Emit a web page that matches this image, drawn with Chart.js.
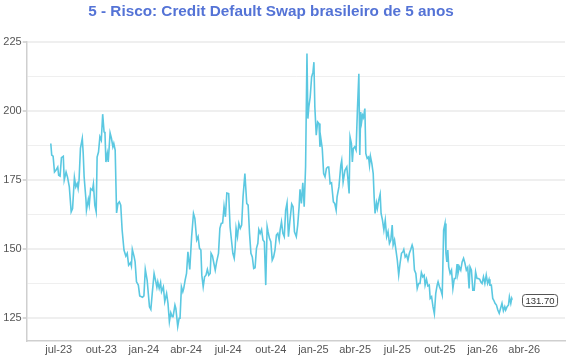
<!DOCTYPE html>
<html><head><meta charset="utf-8">
<script src="https://cdn.jsdelivr.net/npm/chart.js@4"></script>
<style>
html,body{margin:0;padding:0;background:#fff;}
#wrap{position:relative;width:570px;height:360px;}
#title{position:absolute;left:0;top:2px;width:542px;text-align:center;font:bold 15.3px "Liberation Sans",Arial,sans-serif;color:#5473d6;white-space:nowrap;}
canvas{position:absolute;left:0;top:0;}
</style></head><body>
<div id="wrap"><canvas id="c" width="570" height="360"></canvas><div id="title">5 - Risco: Credit Default Swap brasileiro de 5 anos</div></div>
<script>
// Data: days since startDate and CDS 5y values (bps)
const startDate = '2023-07-01';
const dayOffsets = [
-17,-15,-12,-9,-6,-2,0,3,6,10,12,16,19,23,27,30,34,37,40,42,44,47,51,53,55,59,60,64,66,69,
73,75,78,81,83,86,89,92,95,98,100,102,105,107,111,114,117,119,122,125,128,131,134,137,141,145,148,151,155,157,
159,163,165,168,172,175,181,184,187,191,196,199,202,206,209,212,214,217,220,222,226,229,233,236,239,242,245,247,251,253,
257,260,262,265,268,270,273,276,279,283,287,291,294,298,301,304,307,309,312,315,318,321,324,327,329,332,335,338,341,345,
348,351,354,357,360,363,367,370,373,376,379,381,383,386,389,392,395,398,402,406,409,412,415,418,421,424,427,430,432,435,
438,441,444,447,450,452,455,458,461,464,467,470,473,476,478,481,484,487,490,493,496,499,503,506,509,513,516,519,521,524,
527,530,533,536,538,540,543,546,549,551,553,556,559,562,564,566,569,572,575,578,581,583,586,589,593,596,599,601,605,609,
611,614,618,622,624,627,629,632,634,636,639,642,645,648,650,652,654,656,658,661,663,666,669,671,673,676,679,681,683,686,
688,691,694,696,699,702,705,708,711,714,717,720,722,725,728,731,734,737,740,743,745,748,751,754,757,760,763,765,768,771,
774,777,780,783,786,789,791,794,797,800,802,805,808,811,814,817,819,822,825,828,831,834,836,838,840,842,845,848,851,854,
857,860,862,865,868,871,874,877,880,883,886,888,891,894,897,900,903,906,909,911,914,917,920,923,926,929,931,934,937,939,
942,945,948,951,954,957,960,963,965,968,971,973,976,978,979
];
const cdsValues = [
188.2,184.0,183.6,177.9,178.5,179.7,176.7,176.4,183.1,183.6,175.0,177.9,176.1,172.5,163.5,164.7,175.9,172.5,173.7,171.9,174.9,186.4,190.0,184.6,176.1,167.7,164.1,168.0,165.9,171.9,
171.3,173.5,165.9,163.5,183.3,185.1,190.6,189.4,198.8,192.4,191.8,181.5,184.6,181.5,192.0,190.0,187.0,188.2,185.8,163.1,166.5,167.1,165.9,156.9,149.7,147.5,148.5,144.2,145.1,143.9,
149.9,147.2,145.4,138.2,137.0,133.1,132.6,133.1,142.7,138.8,129.2,128.2,134.0,141.2,138.8,136.2,138.2,135.8,137.9,134.6,136.4,131.0,134.0,130.4,123.8,127.0,125.6,125.6,129.8,128.6,
122.0,125.0,125.0,136.4,134.6,135.8,138.8,141.2,149.0,142.7,154.5,162.9,161.1,153.3,154.5,150.3,149.7,140.6,136.4,140.0,140.6,142.7,140.6,141.2,148.5,147.5,144.9,142.4,145.4,148.5,
157.5,159.3,159.5,165.5,161.7,170.3,170.1,158.1,153.3,148.5,146.7,150.3,157.5,154.5,159.3,157.5,158.7,168.9,177.3,166.5,165.9,155.7,148.5,147.2,143.0,143.3,150.3,152.1,157.1,155.7,
157.1,153.3,152.7,137.0,158.1,156.3,153.9,152.7,146.0,147.2,149.7,155.1,155.7,153.3,156.9,159.9,155.7,154.5,164.1,166.7,154.5,159.9,166.3,165.3,156.3,154.5,158.7,165.3,171.6,166.5,
174.0,165.3,179.7,220.7,197.2,201.4,205.0,212.2,214.0,217.6,201.4,191.2,196.0,195.4,187.0,190.0,186.4,177.3,176.1,179.2,179.7,179.7,173.7,174.0,167.1,166.5,164.1,168.9,172.5,180.3,
182.1,174.3,178.5,179.7,176.1,170.1,190.6,188.2,181.5,186.4,187.0,185.8,200.8,213.4,184.0,199.6,196.0,198.4,197.6,200.8,184.6,182.8,183.3,180.3,183.6,181.0,177.3,168.9,162.9,166.7,
164.7,167.7,169.9,162.9,160.5,156.9,160.5,154.5,156.3,152.1,153.3,158.7,151.5,153.3,149.7,146.0,140.6,144.9,148.5,149.0,149.9,147.2,147.9,146.0,148.5,149.9,151.5,150.3,142.4,141.2,
135.8,137.6,137.6,141.5,140.0,140.6,137.0,139.1,136.7,137.0,132.2,132.8,129.2,126.6,134.0,137.0,138.2,136.4,135.2,133.4,156.9,159.3,148.5,145.4,149.7,143.6,141.2,142.4,135.8,139.4,
139.4,144.6,141.2,143.6,142.4,145.4,146.7,144.9,142.4,143.4,135.8,143.6,142.4,135.2,135.2,141.8,139.4,139.4,139.1,138.2,137.6,140.0,137.6,140.6,137.6,139.1,137.0,137.0,132.2,131.6,
130.4,129.8,128.0,126.8,128.6,130.4,127.7,129.2,128.0,129.2,129.8,132.8,130.4,132.2,131.70
];
const tickDates = ['2023-07-01','2023-10-01','2024-01-01','2024-04-01','2024-07-01','2024-10-01','2025-01-01','2025-04-01','2025-07-01','2025-10-01','2026-01-01','2026-04-01'];
const tickLabels = ['jul-23','out-23','jan-24','abr-24','jul-24','out-24','jan-25','abr-25','jul-25','out-25','jan-26','abr-26'];
const yTickValues = [125,137.5,150,162.5,175,187.5,200,212.5,225];
const yLabelValues = [125,150,175,200,225];
const axisMinDate = '2023-04-23';
const axisMaxDate = '2026-06-28';

const toDays = s => Math.round((Date.parse(s + 'T00:00:00Z') - Date.parse(startDate + 'T00:00:00Z')) / 86400000);
const tickDays = tickDates.map(toDays);
const FONT = '"Liberation Sans", Arial, Helvetica, sans-serif';

const lastLabelPlugin = {
  id: 'lastLabel',
  afterDatasetsDraw(chart) {
    const ctx = chart.ctx, x = chart.scales.x, y = chart.scales.y;
    const i = cdsValues.length - 1;
    const px = x.getPixelForValue(dayOffsets[i]);
    const py = y.getPixelForValue(cdsValues[i]);
    const text = cdsValues[i].toFixed(2);
    ctx.save();
    ctx.font = '9.5px ' + FONT;
    const w = ctx.measureText(text).width + 6;
    const h = 12;
    const bx = Math.round(px + 10) + 0.5, by = Math.round(py - h / 2) + 0.5;
    ctx.beginPath();
    ctx.roundRect(bx, by, w, h, 3);
    ctx.fillStyle = '#fff';
    ctx.fill();
    ctx.strokeStyle = '#555';
    ctx.lineWidth = 1;
    ctx.stroke();
    ctx.fillStyle = '#333';
    ctx.textAlign = 'center';
    ctx.textBaseline = 'middle';
    ctx.fillText(text, bx + w / 2, by + h / 2 + 0.5);
    ctx.restore();
  }
};

new Chart(document.getElementById('c'), {
  type: 'line',
  data: {
    datasets: [{
      data: dayOffsets.map((d, i) => ({ x: d, y: cdsValues[i] })),
      borderColor: '#5bc8e1',
      borderWidth: 1.6,
      pointRadius: 0,
      tension: 0,
      fill: false
    }]
  },
  options: {
    responsive: false,
    animation: false,
    devicePixelRatio: 1,
    layout: { padding: { top: 41.7, right: 5, left: 0, bottom: 0 } },
    plugins: { legend: { display: false }, tooltip: { enabled: false }, title: { display: false } },
    scales: {
      x: {
        type: 'linear',
        min: toDays(axisMinDate),
        max: toDays(axisMaxDate),
        afterBuildTicks: s => { s.ticks = tickDays.map(v => ({ value: v })); },
        afterFit: s => { s.height = 19.3; },
        grid: { display: false, drawTicks: false },
        border: { display: true, color: '#cfcfcf', width: 1.5 },
        ticks: {
          autoSkip: false, maxRotation: 0, minRotation: 0, padding: 3,
          color: '#555', font: { size: 11, family: FONT },
          callback: v => { const k = tickDays.indexOf(v); return k >= 0 ? tickLabels[k] : ''; }
        }
      },
      y: {
        min: 116.9,
        max: 225,
        afterBuildTicks: s => { s.ticks = yTickValues.map(v => ({ value: v })); },
        afterFit: s => { s.width = 26.7; },
        grid: {
          color: '#efefef',
          lineWidth: c => (c.tick && yLabelValues.includes(c.tick.value)) ? 2 : 1,
          tickLength: 4,
          tickColor: c => (c.tick && yLabelValues.includes(c.tick.value)) ? '#d8d8d8' : 'rgba(0,0,0,0)'
        },
        border: { display: true, color: '#cfcfcf', width: 1.5 },
        ticks: {
          padding: 1, color: '#555', font: { size: 11, family: FONT },
          callback: v => yLabelValues.includes(v) ? String(v) : ''
        }
      }
    }
  },
  plugins: [lastLabelPlugin]
});
</script>
</body></html>
